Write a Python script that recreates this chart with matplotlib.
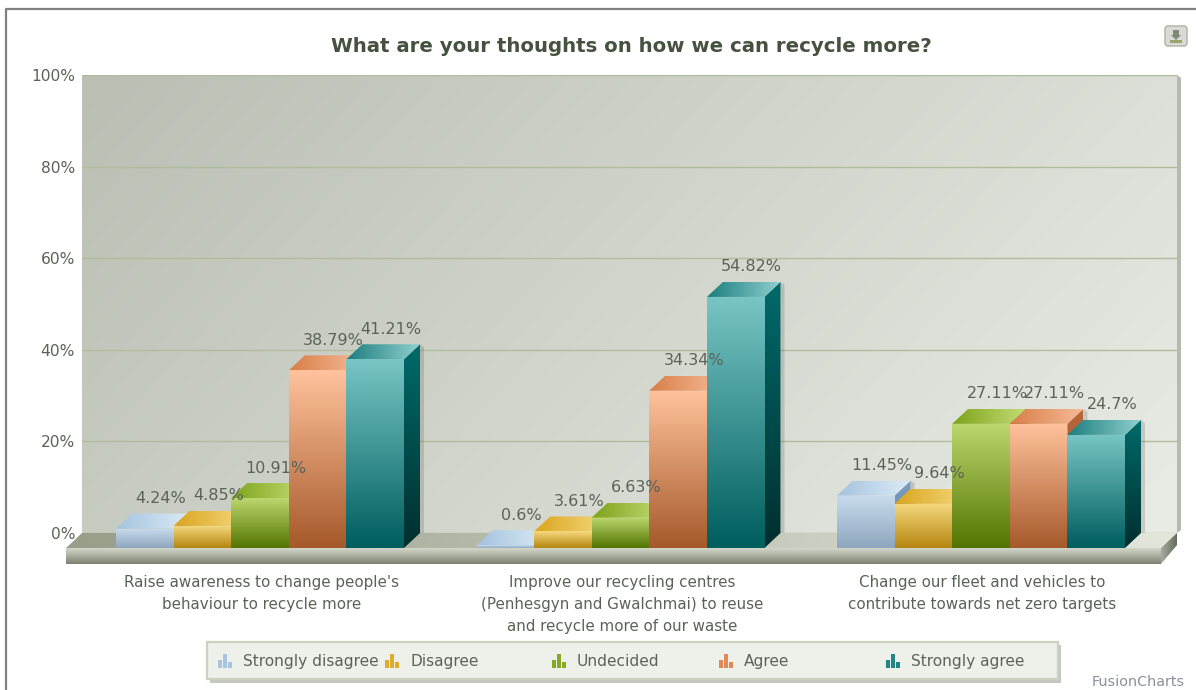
import numpy as np
import matplotlib
matplotlib.use("Agg")
import matplotlib.pyplot as plt
from matplotlib.colors import to_rgb
from matplotlib.lines import Line2D
from matplotlib.patches import FancyBboxPatch, Polygon, Rectangle
from matplotlib.transforms import Affine2D

# chart data
categories = [
    "Raise awareness to change people's\nbehaviour to recycle more",
    "Improve our recycling centres\n(Penhesgyn and Gwalchmai) to reuse\nand recycle more of our waste",
    "Change our fleet and vehicles to\ncontribute towards net zero targets",
]
series_names = ["Strongly disagree", "Disagree", "Undecided", "Agree", "Strongly agree"]
strongly_disagree = [4.24, 0.6, 11.45]
disagree = [4.85, 3.61, 9.64]
undecided = [10.91, 6.63, 27.11]
agree = [38.79, 34.34, 27.11]
strongly_agree = [41.21, 54.82, 24.7]
y_ticks = [0, 20, 40, 60, 80, 100]
value_labels = [
    ["4.24%", "0.6%", "11.45%"],
    ["4.85%", "3.61%", "9.64%"],
    ["10.91%", "6.63%", "27.11%"],
    ["38.79%", "34.34%", "27.11%"],
    ["41.21%", "54.82%", "24.7%"],
]

# colours per series: front top/bottom, top face left/right, side top/bottom, legend
front_cols = [("#c9dcee", "#8ea6be"), ("#f6d97f", "#b5860f"), ("#bbd76e", "#537500"),
              ("#ffc29c", "#a65a2b"), ("#78c5c5", "#005e5e")]
top_cols = [("#a5c3de", "#dcebf7"), ("#dba51f", "#f4d97e"), ("#7ea31a", "#c2dc75"),
            ("#d97e48", "#f6bb97"), ("#1d7e7e", "#8fcfcf")]
side_cols = [("#7f9fc0", "#5b7a99"), ("#b58a1c", "#8c6a0c"), ("#5f8410", "#3f5a00"),
             ("#b9683a", "#8a4a20"), ("#006a6a", "#002f2f")]
legend_cols = ["#a9c4de", "#e0ac2c", "#86a824", "#e08a5a", "#1f8585"]

W, H = 1196, 690
PT = 0.72  # one pixel in points at dpi 100
TEXT = "#5b6358"

fig = plt.figure(figsize=(W / 100, H / 100), dpi=100, facecolor="white")
plt.rcParams["font.family"] = "DejaVu Sans"

# the axes is the back wall, bars sit on the front plane
ax = fig.add_axes([82 / W, 1 - 533 / H, (1177 - 82) / W, (533 - 75) / H])
ax.patch.set_visible(False)
for s in ax.spines.values():
    s.set_visible(False)

group_px = 360.5
ax.set_xlim((82 - 276) / group_px, (1177 - 276) / group_px)
ax.set_ylim(0, 100)
xmin, xmax = ax.get_xlim()
px_y = 458 / 100
DX = 16 / group_px
DY = 15 / px_y
bar_w = 57.6 / group_px
front_tr = ax.transData + Affine2D().translate(-16, -15)

ax.set_yticks(y_ticks, [f"{t}%" for t in y_ticks], fontsize=11.2, color=TEXT)
ax.tick_params(axis="y", length=0, pad=7 * PT)
ax.tick_params(axis="x", length=0, pad=42 * PT)
ax.set_xticks(np.arange(3) - DX + 1.5 / group_px, categories, fontsize=10.9, color=TEXT, linespacing=1.6)
ax.set_axisbelow(True)
ax.grid(axis="y", color="#b0bd9b", linewidth=1.0)


def gradient_face(verts, c1, c2, tr, zorder, horizontal=False):
    # polygon face filled with a linear gradient, c1 = top or left
    poly = Polygon(verts, transform=tr, fc="none", ec="none", zorder=zorder, clip_on=False)
    ax.add_patch(poly)
    t = np.linspace(0, 1, 64)[:, None]
    arr = np.array(to_rgb(c1)) * (1 - t) + np.array(to_rgb(c2)) * t
    arr = arr[None, :, :] if horizontal else arr[:, None, :]
    xs = [v[0] for v in verts]
    ys = [v[1] for v in verts]
    im = ax.imshow(arr, extent=(min(xs), max(xs), min(ys), max(ys)), origin="upper",
                   aspect="auto", interpolation="bilinear", transform=tr, zorder=zorder)
    # images are cut to the clip box, so it has to be the whole figure here
    im.set_clip_box(fig.bbox)
    im.set_clip_path(poly)
    return im


# back wall, diagonal gradient
u, v = np.meshgrid(np.linspace(0, 1, 120), np.linspace(0, 1, 80))
mix = ((u * 0.72 + v * 0.28))[..., None]
wall = np.array(to_rgb("#babfb4")) * (1 - mix) + np.array(to_rgb("#e9ece5")) * mix
ax.imshow(wall, extent=(xmin, xmax, 0, 100), origin="upper", aspect="auto", zorder=0,
          interpolation="bilinear")
strip = 4 / group_px
ax.add_patch(Polygon([(xmax, 100), (xmax + strip, 100 - 3 / px_y), (xmax + strip, 3 / px_y),
                      (xmax, 0)], fc="#b5baaf", ec="none", zorder=0, clip_on=False))

# floor
floor_h = 16 / px_y
gradient_face([(xmin, 0), (xmax, 0), (xmax + DX, DY), (xmin + DX, DY)], "#989e8a", "#e2e6db",
              front_tr, 1, horizontal=True)
gradient_face([(xmin, 0), (xmax, 0), (xmax, -floor_h), (xmin, -floor_h)], "#d3d7c9", "#7c8271",
              front_tr, 1)
gradient_face([(xmax, 0), (xmax + DX, DY), (xmax + DX, DY - floor_h + 4 / px_y), (xmax, -floor_h)],
              "#a7ab9e", "#666c5b", front_tr, 1, horizontal=True)

# bars
all_values = [strongly_disagree, disagree, undecided, agree, strongly_agree]
z = 2
for g in range(len(categories)):
    for j, vals in enumerate(all_values):
        val = vals[g]
        x0 = g + (j - 2.5) * bar_w
        x1 = x0 + bar_w
        # soft shadow on the wall
        ax.add_patch(Polygon([(x1 + DX, val + DY), (x1 + DX + 4 / group_px, val + DY - 3 / px_y),
                              (x1 + DX + 4 / group_px, DY), (x1 + DX, DY)],
                             transform=front_tr, fc="#55594f", ec="none", alpha=0.22,
                             zorder=z, clip_on=False))
        gradient_face([(x1, 0), (x1 + DX, DY), (x1 + DX, val + DY), (x1, val)], *side_cols[j],
                      front_tr, z + 0.1)
        gradient_face([(x0, val), (x1, val), (x1 + DX, val + DY), (x0 + DX, val + DY)], *top_cols[j],
                      front_tr, z + 0.2, horizontal=True)
        gradient_face([(x0, 0), (x1, 0), (x1, val), (x0, val)], *front_cols[j], front_tr, z + 0.3)
        ax.bar(x0, val, bar_w, align="edge", color="none", edgecolor="none",
               transform=front_tr, zorder=z + 0.4, clip_on=False)
        z += 1

# value labels sit above the back edge of the top face
for j, vals in enumerate(all_values):
    for g, val in enumerate(vals):
        ax.annotate(value_labels[j][g], xy=(g + (j - 2) * bar_w, val), xytext=(0, 15 * PT),
                    textcoords="offset points", ha="center", va="center", fontsize=11.5,
                    color=TEXT, zorder=100, annotation_clip=False)

# overlay in pixels for frame, title, legend and the export button
ov = fig.add_axes([0, 0, 1, 1], zorder=5)
ov.set_xlim(0, W)
ov.set_ylim(H, 0)
ov.axis("off")

ov.add_line(Line2D([6, 6, W], [H, 9, 9], color="#808080", linewidth=1.6))
ov.text(631, 46, "What are your thoughts on how we can recycle more?", ha="center", va="center",
        fontsize=14.2, fontweight="bold", color="#46523f")

# legend box
ov.add_patch(Rectangle((210, 645), 851, 38, fc="#c4c8bc", ec="none"))
ov.add_patch(Rectangle((207, 642), 851, 37, fc="#eef1ea", ec="#ccd2bf", linewidth=1.6))
for i, name in enumerate(series_names):
    x = 218 + i * 167
    for k, bar_h in enumerate((8, 14, 6)):
        ov.add_patch(Rectangle((x + k * 5, 668 - bar_h), 4.4, bar_h, fc=legend_cols[i], ec="none"))
    ov.text(x + 25, 666, name, ha="left", va="baseline", fontsize=11.1, color=TEXT)

# export button
ov.add_patch(FancyBboxPatch((1166, 27), 20, 18, boxstyle="round,pad=1,rounding_size=3",
                            fc="#d9d9d5", ec="#b8b8b4", linewidth=1.2))
ov.add_patch(Polygon([(1173, 30), (1179, 30), (1179, 35), (1181, 35), (1176, 40), (1171, 35), (1173, 35)],
                     fc="#808878", ec="none"))
ov.add_patch(Rectangle((1170, 40), 12, 2.5, fc="#96a66c", ec="none"))

ov.text(1092, 675, "FusionCharts", ha="left", va="top", fontsize=10.4, color="#8a919c")

fig.savefig("out.png", dpi=100)
